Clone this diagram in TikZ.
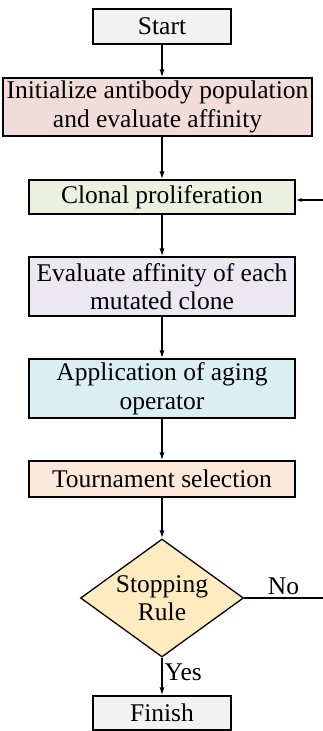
\documentclass[tikz,border=0pt]{standalone}
\usepackage{fontspec}
\setmainfont{Liberation Serif}
\usetikzlibrary{shapes.geometric,arrows.meta}
\definecolor{startgrey}{HTML}{F2F2F2}
\definecolor{initpink}{HTML}{F2DCDB}
\definecolor{clonegreen}{HTML}{EBF1DE}
\definecolor{evallav}{HTML}{ECE8F1}
\definecolor{agingblue}{HTML}{DAEEF3}
\definecolor{tourpeach}{HTML}{FDE9D9}
\definecolor{stopyellow}{HTML}{FFEBC0}
\begin{document}
\begin{tikzpicture}[x=1pt,y=-1pt,
  every node/.style={font=\fontsize{25.5}{28.5}\selectfont},
  box/.style={draw,line width=1.3pt,inner sep=0pt,align=center},
  decide/.style={draw,line width=1.3pt,diamond,aspect=1.38,inner sep=0pt,
    minimum width=163pt,minimum height=118pt,align=center},
  flow/.style={line width=1.3pt,-{Latex[length=8pt,width=5pt]}}]
  \useasboundingbox (0,0) rectangle (323,731);
  % nodes
  \node [box,fill=startgrey,minimum width=138pt,minimum height=35pt] (start) at (162,26.5) {Start};
  \node [box,fill=initpink,minimum width=309pt,minimum height=58pt] (init) at (157.5,107) {Initialize antibody population\\and evaluate affinity};
  \node [box,fill=clonegreen,minimum width=266pt,minimum height=34pt] (clonal) at (162,197) {Clonal proliferation};
  \node [box,fill=evallav,minimum width=266pt,minimum height=59pt] (eval) at (162,286.5) {Evaluate affinity of each\\mutated clone};
  \node [box,fill=agingblue,minimum width=266pt,minimum height=59pt] (aging) at (162,388.5) {Application of aging\\operator};
  \node [box,fill=tourpeach,minimum width=266pt,minimum height=36pt] (tour) at (162,479) {Tournament selection};
  \node [decide,fill=stopyellow] (stop) at (162,598) {Stopping\\Rule};
  \node [box,fill=startgrey,minimum width=138pt,minimum height=34pt] (finish) at (162,713) {Finish};
  \coordinate (noend) at (323,598);
  \coordinate (backin) at (323,200);
  % edges
  \draw [flow] (start.south) -- (start.south |- init.north);
  \draw [flow] (start.south |- init.south) -- (clonal.north);
  \draw [flow] (clonal.south) -- (eval.north);
  \draw [flow] (eval.south) -- (aging.north);
  \draw [flow] (aging.south) -- (tour.north);
  \draw [flow] (tour.south) -- (stop.north);
  \draw [flow] (stop.south) -- (finish.north) node [pos=0.4,right,inner sep=2pt] {Yes};
  \draw [line width=1.3pt] (stop.east) -- (noend) node [midway,above,inner sep=3pt] {No};
  \draw [line width=1.3pt,-{Latex[length=6pt,width=4pt]}] (backin) -- (clonal.east |- backin);
\end{tikzpicture}
\end{document}
